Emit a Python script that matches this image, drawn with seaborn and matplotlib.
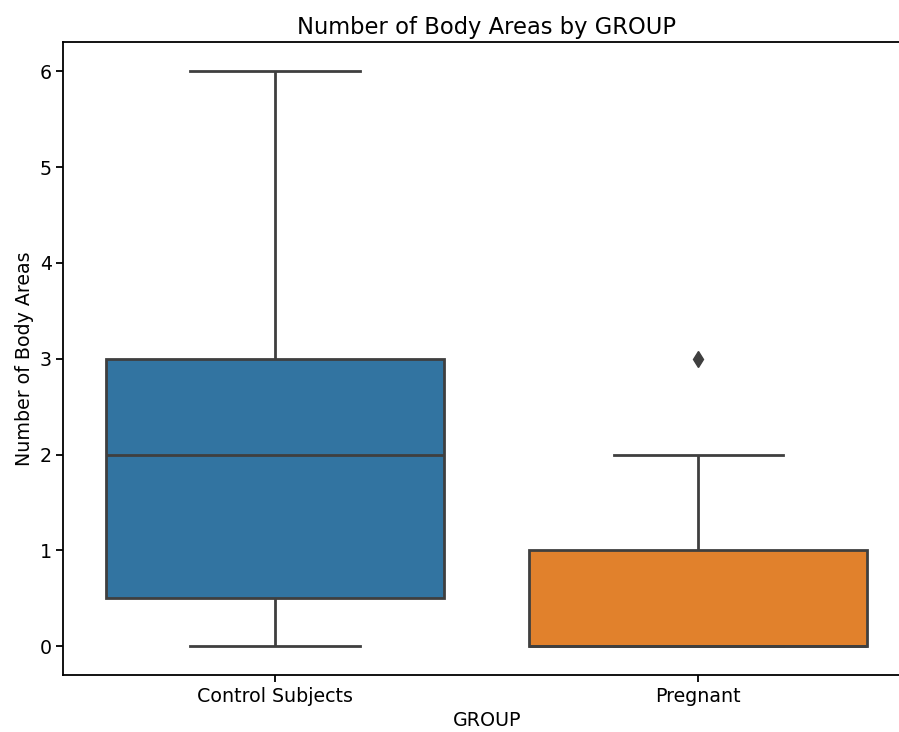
import pandas as pd
import matplotlib
matplotlib.use('Agg')
import matplotlib.pyplot as plt
import seaborn as sns

# counts of body areas per subject
control_subjects = [0, 0, 0, 0, 1, 1, 2, 2, 2, 3, 3, 3, 3, 5, 6]
pregnant = [0, 0, 0, 0, 0, 0, 1, 1, 1, 2, 3]
groups = ['Control Subjects', 'Pregnant']

df = pd.DataFrame({
    'GROUP': [groups[0]] * len(control_subjects) + [groups[1]] * len(pregnant),
    'Number of Body Areas': control_subjects + pregnant,
})

plt.figure(figsize=(8.99, 7.32), dpi=100)
ax = sns.boxplot(x='GROUP', y='Number of Body Areas', data=df, hue='GROUP',
                 palette=['#1f77b4', '#ff7f0e'], saturation=0.75, width=0.8,
                 linecolor='#3f3f3f', linewidth=2,
                 flierprops=dict(marker='d', markerfacecolor='#3f3f3f',
                                 markeredgecolor='#3f3f3f', markersize=8))
plt.title('Number of Body Areas by GROUP', fontsize=16.3)
plt.xlabel('GROUP', fontsize=13.7)
plt.ylabel('Number of Body Areas', fontsize=13.7)
ax.tick_params(labelsize=13.7, width=1.3, length=5)
for s in ax.spines.values():
    s.set_linewidth(1.3)
# the original image is cropped on the right, the right spine is off-canvas
plt.subplots_adjust(left=0.0706, right=1.012, top=0.942, bottom=0.078)
plt.savefig('out.png', dpi=100)
